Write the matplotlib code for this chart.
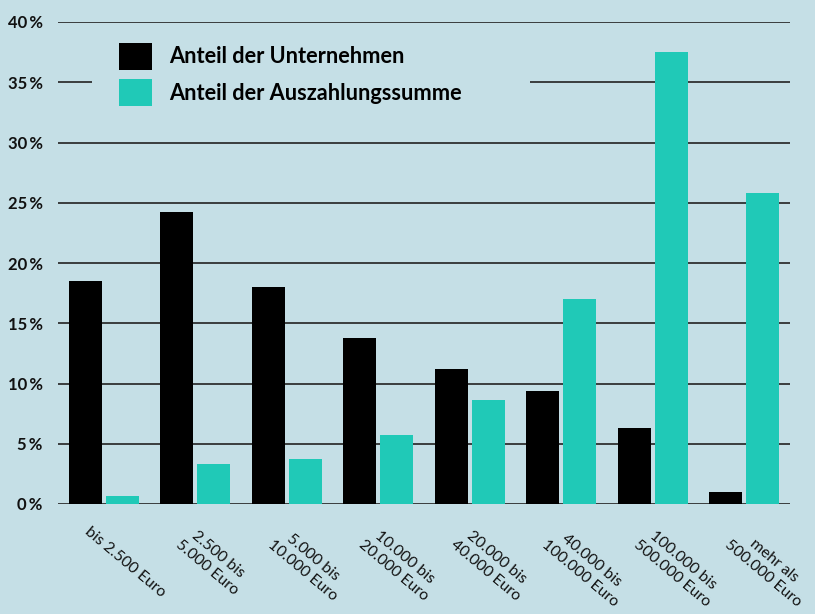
import numpy as np
import matplotlib.pyplot as plt
from matplotlib.patches import Patch, Rectangle

# =============================================================================
# Data
# =============================================================================
categories = ['bis 2.500 Euro', '2.500 bis\n5.000 Euro', '5.000 bis\n10.000 Euro',
              '10.000 bis\n20.000 Euro', '20.000 bis\n40.000 Euro', '40.000 bis\n100.000 Euro',
              '100.000 bis\n500.000 Euro', 'mehr als\n500.000 Euro']
anteil_unternehmen = [18.5, 24.2, 18.0, 13.8, 11.2, 9.4, 6.3, 1.0]
anteil_summe       = [0.7, 3.3, 3.7, 5.7, 8.6, 17.0, 37.5, 25.8]
y_ticks            = [0, 5, 10, 15, 20, 25, 30, 35, 40]
series_names       = ['Anteil der Unternehmen', 'Anteil der Auszahlungssumme']

bg_color    = '#c5dfe6'
teal_color  = '#20c9b7'
black_color = '#000000'

plt.rcParams['font.family'] = ['Lato', 'DejaVu Sans']

fig = plt.figure(figsize=(8.15, 6.14), dpi=100, facecolor=bg_color)
ax = fig.add_axes([58/815, 110/614, 732/815, 482/614])
ax.set_facecolor(bg_color)

x = np.arange(len(categories))
offset = 18.5/91.5
width  = 33/91.5
ax.bar(x - offset, anteil_unternehmen, width, color=black_color, zorder=3)
ax.bar(x + offset, anteil_summe, width, color=teal_color, zorder=3)

ax.set_xlim(-0.5, len(categories) - 0.5)
ax.set_ylim(0, 40)
ax.set_yticks(y_ticks)
ax.set_yticklabels(['{}\u2009%'.format(v) for v in y_ticks], fontsize=12, fontweight='bold', color='#111111')
ax.tick_params(axis='y', length=0, pad=11)
ax.set_xticks([])
for s in ax.spines.values():
    s.set_visible(False)
for v in y_ticks:
    ax.axhline(v, color='#222222', lw=1.2, zorder=1)

# x labels, rotated
for xi, lab in zip(x, categories):
    ax.text(xi - 0.24, -1.7, lab, rotation=-40, ha='left', va='top',
            multialignment='center', fontsize=11.3, color='#111111', linespacing=1.3)

# legend background covering the grid lines
ax.add_patch(Rectangle((34/732, 31.5/40), (530-92)/732, 7.0/40, transform=ax.transAxes,
                       facecolor=bg_color, edgecolor='none', zorder=2))
handles = [Patch(facecolor=black_color), Patch(facecolor=teal_color)]
leg = ax.legend(handles, series_names, loc='upper left', bbox_to_anchor=(61/732, 38.26/40),
                frameon=False, borderaxespad=0, borderpad=0, handlelength=1.5, handleheight=1.5,
                labelspacing=0.45, handletextpad=0.78, prop={'size': 15.7, 'weight': 'bold'})
leg.set_zorder(4)

fig.savefig('out.png', dpi=100, facecolor=bg_color)
